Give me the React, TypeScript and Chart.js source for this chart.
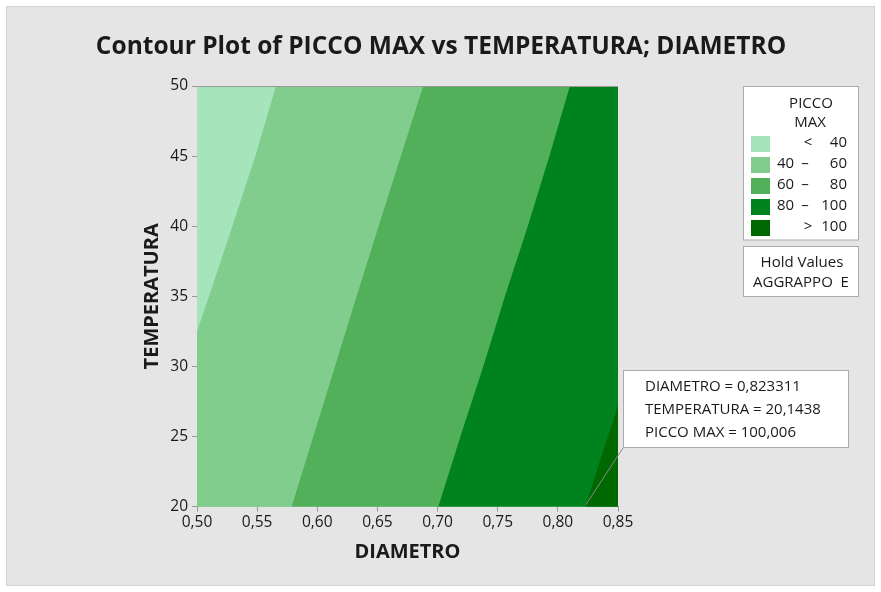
import React, { useEffect, useRef } from 'react';
import { Chart, registerables } from 'chart.js';

Chart.register(...registerables);

// ---- Data ----
const xMin = 0.5;
const xMax = 0.85;
const yMin = 20;
const yMax = 50;

// Contour boundaries: DIAMETRO at given TEMPERATURA
const temperatura = [20, 25, 30, 35, 40, 45, 50];
const contour60Diam = [0.5787, 0.5967, 0.6147, 0.6327, 0.651, 0.6695, 0.6881];
const contour80Diam = [0.7006, 0.719, 0.738, 0.756, 0.775, 0.793, 0.81];
const contour40Temp = [32.5, 35, 40, 45, 50];
const contour40Diam = [0.5, 0.51, 0.5294, 0.5485, 0.5657];
const contour100Temp = [20, 27.25];
const contour100Diam = [0.8228, 0.85];

const xTickValues = [0.5, 0.55, 0.6, 0.65, 0.7, 0.75, 0.8, 0.85];
const xTickLabels = ['0,50', '0,55', '0,60', '0,65', '0,70', '0,75', '0,80', '0,85'];
const yTickValues = [20, 25, 30, 35, 40, 45, 50];
const yTickLabels = ['20', '25', '30', '35', '40', '45', '50'];

const bandColors = ['#a6e5bc', '#80cd8e', '#52af5a', '#00821f', '#006800'];
const legendLow = ['', '40', '60', '80', ''];
const legendSym = ['<', '–', '–', '–', '>'];
const legendHigh = ['40', '60', '80', '100', '100'];

const annotDiametro = 0.823311;
const annotTemperatura = 20.1438;
const annotLines = ['DIAMETRO = 0,823311', 'TEMPERATURA = 20,1438', 'PICCO MAX = 100,006'];

const titleText = 'Contour Plot of PICCO MAX vs TEMPERATURA; DIAMETRO';
const FONT = '"Open Sans", "Noto Sans", sans-serif';
const TEXT = '#1a1a1a';
const AXIS = '#999999';

type P = { x: number; y: number };
const pts = (ds: number[], ts: number[]): P[] => ds.map((d, i) => ({ x: d, y: ts[i] }));
const closeRight = (p: P[]): P[] => [...p, { x: xMax, y: yMax }, { x: xMax, y: yMin }, p[0]];

const baseRegion: P[] = [
  { x: xMin, y: yMin },
  { x: xMin, y: yMax },
  { x: xMax, y: yMax },
  { x: xMax, y: yMin },
  { x: xMin, y: yMin },
];
const region40 = closeRight([{ x: xMin, y: yMin }, ...pts(contour40Diam, contour40Temp)]);
const region60 = closeRight(pts(contour60Diam, temperatura));
const region80 = closeRight(pts(contour80Diam, temperatura));
const region100 = [...pts(contour100Diam, contour100Temp), { x: xMax, y: yMin }, { x: contour100Diam[0], y: contour100Temp[0] }];

const regions = [baseRegion, region40, region60, region80, region100];

const decor = {
  id: 'decor',
  beforeDraw(chart: any) {
    const { ctx, width, height } = chart;
    ctx.save();
    ctx.fillStyle = '#ffffff';
    ctx.fillRect(0, 0, width, height);
    ctx.fillStyle = '#e5e5e5';
    ctx.fillRect(6, 6, width - 12, height - 12);
    ctx.strokeStyle = '#d2d2d2';
    ctx.lineWidth = 1;
    ctx.strokeRect(6.5, 6.5, width - 13, height - 13);
    ctx.restore();
  },
  afterDatasetsDraw(chart: any) {
    const { ctx, chartArea } = chart;
    ctx.save();
    ctx.strokeStyle = AXIS;
    ctx.lineWidth = 1;
    ctx.beginPath();
    ctx.moveTo(chartArea.left, chartArea.top + 0.5);
    ctx.lineTo(chartArea.right, chartArea.top + 0.5);
    ctx.stroke();
    ctx.restore();
  },
  afterDraw(chart: any) {
    const { ctx } = chart;
    const xs = chart.scales.x;
    const ys = chart.scales.y;
    ctx.save();
    // Title
    ctx.fillStyle = TEXT;
    ctx.font = `bold 24.5px ${FONT}`;
    ctx.textAlign = 'center';
    ctx.textBaseline = 'alphabetic';
    ctx.fillText(titleText, 441, 54);

    // Legend box
    ctx.fillStyle = '#ffffff';
    ctx.fillRect(743.5, 86.5, 115, 153.5);
    ctx.strokeStyle = '#aaaaaa';
    ctx.strokeRect(743.5, 86.5, 115, 153.5);
    ctx.fillStyle = TEXT;
    ctx.font = `15px ${FONT}`;
    ctx.textAlign = 'center';
    ctx.fillText('PICCO', 811, 107.5);
    ctx.fillText('MAX', 810, 127);
    for (let i = 0; i < bandColors.length; i++) {
      const top = 136 + i * 21;
      ctx.fillStyle = bandColors[i];
      ctx.fillRect(751, top, 19, 16);
      ctx.fillStyle = TEXT;
      const base = top + 11;
      ctx.textAlign = 'left';
      if (legendLow[i]) ctx.fillText(legendLow[i], 777, base);
      ctx.textAlign = 'center';
      ctx.fillText(legendSym[i], legendLow[i] ? 805 : 808, base);
      ctx.textAlign = 'right';
      ctx.fillText(legendHigh[i], 847, base);
    }

    // Hold values box
    ctx.fillStyle = '#ffffff';
    ctx.fillRect(743.5, 246.5, 115, 50);
    ctx.strokeStyle = '#aaaaaa';
    ctx.strokeRect(743.5, 246.5, 115, 50);
    ctx.fillStyle = TEXT;
    ctx.textAlign = 'center';
    ctx.fillText('Hold Values', 802, 267);
    ctx.fillText('AGGRAPPO  E', 801, 287);

    // Annotation
    const px = xs.getPixelForValue(annotDiametro);
    const py = ys.getPixelForValue(annotTemperatura);
    ctx.strokeStyle = '#8a8a8a';
    ctx.beginPath();
    ctx.moveTo(623, 448);
    ctx.lineTo(px, py);
    ctx.stroke();
    ctx.fillStyle = '#ffffff';
    ctx.fillRect(623.5, 370.5, 225, 77);
    ctx.strokeStyle = '#aaaaaa';
    ctx.strokeRect(623.5, 370.5, 225, 77);
    ctx.fillStyle = TEXT;
    ctx.textAlign = 'left';
    ctx.font = `15px ${FONT}`;
    annotLines.forEach((t, i) => ctx.fillText(t, 645, 391 + i * 22.8));
    ctx.restore();
  },
};

export default function App() {
  const ref = useRef<HTMLCanvasElement | null>(null);
  useEffect(() => {
    if (!ref.current) return;
    const chart = new Chart(ref.current, {
      type: 'scatter',
      data: {
        datasets: regions.map((r, i) => ({
          data: r,
          showLine: true,
          fill: 'shape',
          backgroundColor: bandColors[i],
          borderColor: 'rgba(0,0,0,0)',
          borderWidth: 0,
          pointRadius: 0,
          pointHoverRadius: 0,
          tension: 0,
          order: regions.length - i,
        })),
      },
      options: {
        animation: false,
        responsive: false,
        devicePixelRatio: 1,
        events: [],
        layout: { padding: { left: 0, top: 86, right: 263, bottom: 20 } },
        plugins: {
          legend: { display: false },
          tooltip: { enabled: false },
          title: { display: false },
        },
        scales: {
          x: {
            type: 'linear',
            min: xMin,
            max: xMax,
            afterBuildTicks: (s: any) => {
              s.ticks = xTickValues.map((v) => ({ value: v }));
            },
            afterFit: (s: any) => {
              s.height = 65.3;
            },
            ticks: {
              autoSkip: false,
              maxRotation: 0,
              padding: 2,
              color: TEXT,
              font: { family: FONT, size: 15.5 },
              callback: (_v: any, i: number) => xTickLabels[i],
            },
            grid: { drawOnChartArea: false, drawTicks: true, tickLength: 5, color: AXIS },
            border: { display: true, color: AXIS },
            title: {
              display: true,
              text: 'DIAMETRO',
              color: TEXT,
              font: { family: FONT, size: 20, weight: 'bold' },
              padding: { top: 0, bottom: 7.8 },
            },
          },
          y: {
            type: 'linear',
            min: yMin,
            max: yMax,
            afterBuildTicks: (s: any) => {
              s.ticks = yTickValues.map((v) => ({ value: v }));
            },
            afterFit: (s: any) => {
              s.width = 197;
            },
            ticks: {
              autoSkip: false,
              padding: 4,
              color: TEXT,
              font: { family: FONT, size: 15.5 },
              callback: (_v: any, i: number) => yTickLabels[i],
            },
            grid: { drawOnChartArea: false, drawTicks: true, tickLength: 5, color: AXIS },
            border: { display: true, color: AXIS },
            title: {
              display: true,
              text: 'TEMPERATURA',
              color: TEXT,
              font: { family: FONT, size: 20, weight: 'bold' },
              padding: { top: 139.8, bottom: 0 },
            },
          },
        },
      },
      plugins: [decor],
    } as any);
    return () => chart.destroy();
  }, []);
  return (
    <div style={{ position: 'absolute', left: 0, top: 0, width: 881, height: 592 }}>
      <canvas ref={ref} width={881} height={592} style={{ display: 'block', width: 881, height: 592 }} />
    </div>
  );
}
